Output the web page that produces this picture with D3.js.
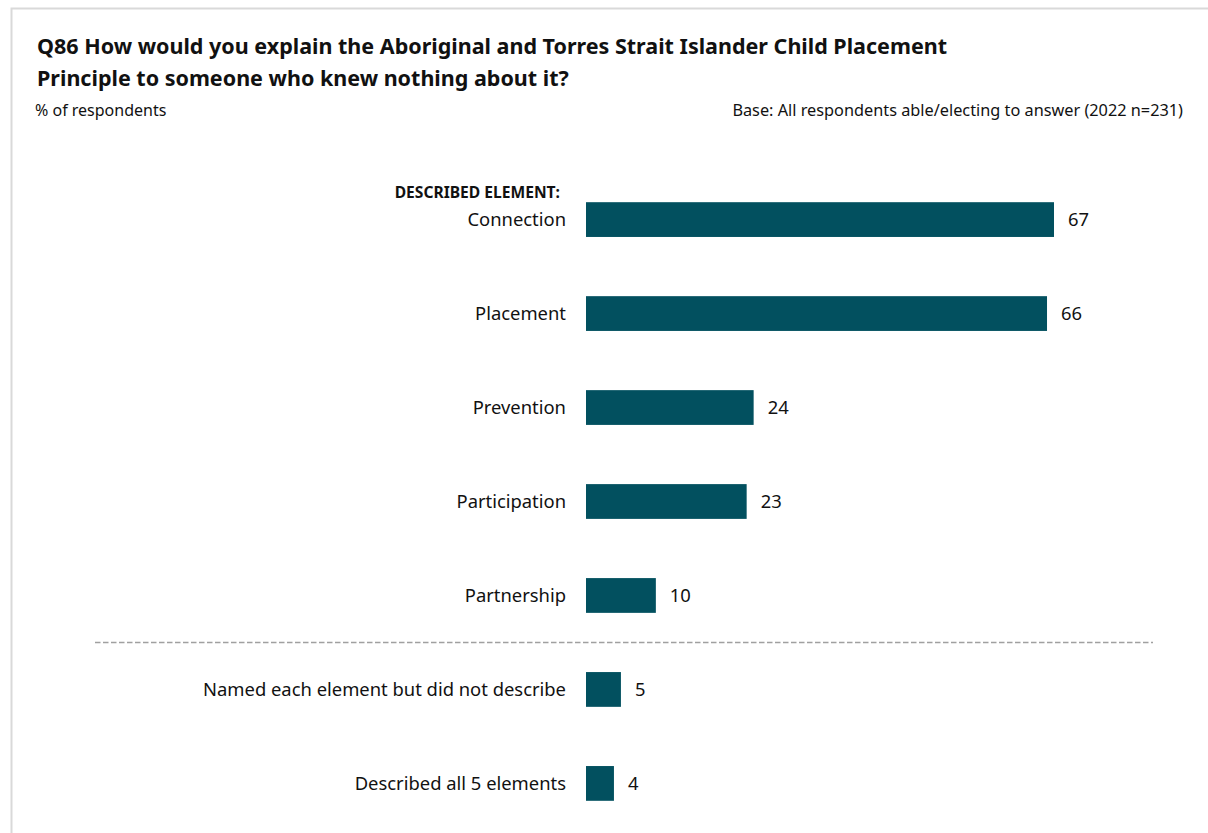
<!DOCTYPE html>
<html><head><meta charset="utf-8">
<script src="https://cdn.jsdelivr.net/npm/d3@7"></script>
<style>body{margin:0;background:#fff;}svg{display:block;font-family:"Noto Sans",sans-serif;}</style>
</head><body>
<svg id="c" width="1208" height="833"></svg>
<script>
const categories = ["Connection","Placement","Prevention","Participation","Partnership","Named each element but did not describe","Described all 5 elements"];
const values = [67,66,24,23,10,5,4];
const titleLines = ["Q86 How would you explain the Aboriginal and Torres Strait Islander Child Placement","Principle to someone who knew nothing about it?"];
const subtitleLeft = "% of respondents";
const subtitleRight = "Base: All respondents able/electing to answer (2022 n=231)";
const groupLabel = "DESCRIBED ELEMENT:";
const separatorAfter = "Partnership";

const svg = d3.select("#c");
const color = "#02505f";

// frame
svg.append("rect").attr("x",11.5).attr("y",8.5).attr("width",1220).attr("height",850)
  .attr("fill","none").attr("stroke","#d9d9d9").attr("stroke-width",2);

// title
svg.append("g").selectAll("text").data(titleLines).join("text")
  .attr("x",37).attr("y",(d,i)=>54+i*32).attr("font-weight","bold").attr("font-size",21.5)
  .attr("fill","#111").text(d=>d);
svg.append("text").attr("x",35).attr("y",116).attr("font-size",16).attr("fill","#111").text(subtitleLeft);
svg.append("text").attr("x",1183).attr("y",116).attr("font-size",16.3).attr("text-anchor","end").attr("fill","#111").text(subtitleRight);

const x = d3.scaleLinear().domain([0,67]).range([586,1054]);
const y = d3.scaleBand().domain(categories).range([174,829]).paddingInner(0.63).paddingOuter(0.3);

svg.append("g").selectAll("rect").data(categories).join("rect")
  .attr("x",x(0)).attr("y",d=>y(d)).attr("width",(d,i)=>x(values[i])-x(0)).attr("height",y.bandwidth())
  .attr("fill",color);

svg.append("g").selectAll("text").data(categories).join("text")
  .attr("x",566).attr("y",d=>y(d)+y.bandwidth()/2).attr("dy","0.35em").attr("text-anchor","end")
  .attr("font-size",18.4).attr("fill","#111").text(d=>d);

svg.append("g").selectAll("text").data(categories).join("text")
  .attr("x",(d,i)=>x(values[i])+14).attr("y",d=>y(d)+y.bandwidth()/2).attr("dy","0.35em")
  .attr("font-size",18.4).attr("fill","#111").text((d,i)=>values[i]);

svg.append("text").attr("x",560).attr("y",y(categories[0])-4).attr("text-anchor","end")
  .attr("font-weight","bold").attr("font-size",15.6).attr("fill","#111").text(groupLabel);

const sepIdx = categories.indexOf(separatorAfter);
const sepY = (y(categories[sepIdx])+y.bandwidth()+y(categories[sepIdx+1]))/2;
svg.append("line").attr("x1",95).attr("x2",1153).attr("y1",sepY).attr("y2",sepY)
  .attr("stroke","#a0a0a0").attr("stroke-width",1.5).attr("stroke-dasharray","5.5,2.5");
</script>
</body></html>
